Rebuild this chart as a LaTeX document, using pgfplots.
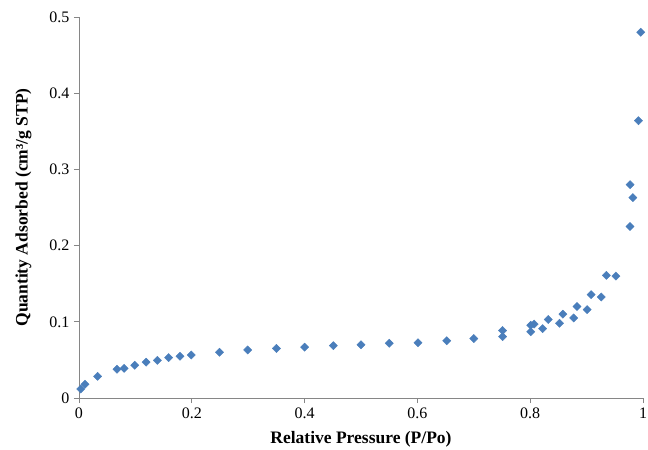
\documentclass[border=0pt]{standalone}
\usepackage{fontspec}
\setmainfont{Liberation Serif}
\usepackage{pgfplots}
\pgfplotsset{compat=1.18}
\definecolor{mk}{RGB}{74,126,187}
\definecolor{ax}{RGB}{134,134,134}
\begin{document}
\begin{tikzpicture}
\useasboundingbox (-79bp,-52bp) rectangle (569bp,398bp);
\begin{axis}[
  at={(0,0)}, anchor=south west,
  scale only axis,
  width=564bp, height=381bp,
  xmin=0, xmax=1, ymin=0, ymax=0.5,
  axis x line*=bottom, axis y line*=left,
  axis line style={ax, line width=0.8pt},
  xtick={0,0.2,0.4,0.6,0.8,1},
  ytick={0,0.1,0.2,0.3,0.4,0.5},
  tick style={ax, line width=0.8pt},
  tick align=outside,
  major tick length=5bp,
  /pgf/number format/assume math mode=true,
  /pgf/number format/fixed,
  xticklabel style={font=\fontsize{16bp}{18bp}\selectfont, yshift=-1bp},
  yticklabel style={font=\fontsize{16bp}{18bp}\selectfont, xshift=-1bp},
  xlabel={\textbf{Relative Pressure (P/Po)}},
  ylabel={\textbf{Quantity Adsorbed (cm³/g STP)}},
  label style={font=\fontsize{17.5bp}{20bp}\selectfont},
  xlabel style={at={(axis description cs:0.5,0)}, anchor=north, yshift=-30bp},
  ylabel style={at={(axis description cs:0,0.5)}, anchor=south, yshift=44bp},
  clip=false,
]
\addplot[only marks, mark=square*, mark size=2.9bp, mark options={rotate=45, fill=mk, draw=mk}] coordinates {
(0.003,0.0118) (0.0106,0.018) (0.033,0.0285) (0.0675,0.0377) (0.080,0.039)
(0.099,0.043) (0.119,0.047) (0.139,0.0494) (0.159,0.053) (0.179,0.0547)
(0.199,0.0564) (0.249,0.060) (0.299,0.063) (0.350,0.065) (0.400,0.0667)
(0.451,0.0686) (0.500,0.070) (0.550,0.0718) (0.601,0.0726) (0.652,0.0752)
(0.700,0.078) (0.751,0.0885) (0.751,0.0805) (0.801,0.0954) (0.807,0.097)
(0.801,0.087) (0.822,0.091) (0.832,0.103) (0.852,0.098) (0.858,0.110)
(0.877,0.105) (0.883,0.120) (0.901,0.116) (0.908,0.1356) (0.926,0.1325)
(0.935,0.161) (0.952,0.160) (0.977,0.225) (0.982,0.263) (0.977,0.280)
(0.992,0.364) (0.996,0.480)
};
\end{axis}
\end{tikzpicture}
\end{document}
